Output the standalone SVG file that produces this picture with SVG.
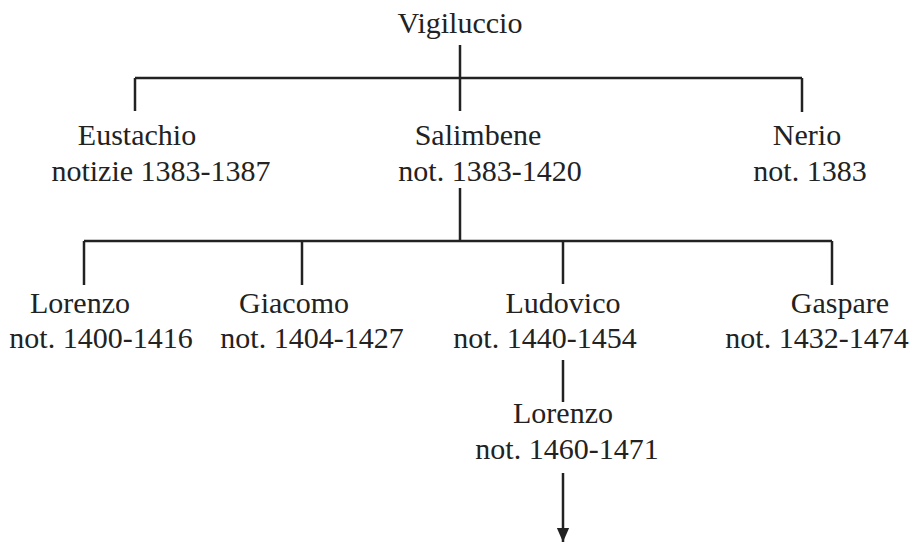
<svg xmlns="http://www.w3.org/2000/svg" width="914" height="544" viewBox="0 0 914 544">
<style>
text{font-family:"Liberation Serif","Times New Roman",serif;font-size:30px;fill:#222;text-anchor:middle}
.c{stroke:#222;stroke-width:2.5;fill:none}
</style>
<defs>
<marker id="ah" markerUnits="userSpaceOnUse" markerWidth="14" markerHeight="16" refX="16" refY="7" orient="auto" viewBox="0 0 16 14">
<path d="M0,0 L16,7 L0,14 Z" fill="#222"/>
</marker>
</defs>
<rect width="914" height="544" fill="#fff"/>
<g id="connectors">
<line class="c" x1="460" y1="45" x2="460" y2="111"/>
<line class="c" x1="135" y1="78" x2="802" y2="78"/>
<line class="c" x1="135" y1="78" x2="135" y2="111"/>
<line class="c" x1="802" y1="78" x2="802" y2="112"/>
<line class="c" x1="460" y1="188" x2="460" y2="241"/>
<line class="c" x1="84" y1="241" x2="832" y2="241"/>
<line class="c" x1="84" y1="241" x2="84" y2="285"/>
<line class="c" x1="302" y1="241" x2="302" y2="285"/>
<line class="c" x1="563" y1="241" x2="563" y2="284"/>
<line class="c" x1="832" y1="241" x2="832" y2="285"/>
<line class="c" x1="563" y1="360" x2="563" y2="402"/>
<line class="c" x1="563" y1="473" x2="563" y2="542" marker-end="url(#ah)"/>
</g>
<g id="vigiluccio"><text x="460" y="33">Vigiluccio</text></g>
<g id="eustachio"><text x="137" y="145">Eustachio</text><text x="161" y="181">notizie 1383-1387</text></g>
<g id="salimbene"><text x="478" y="145">Salimbene</text><text x="490" y="181">not. 1383-1420</text></g>
<g id="nerio"><text x="807" y="145">Nerio</text><text x="810" y="181">not. 1383</text></g>
<g id="lorenzo1"><text x="80" y="313">Lorenzo</text><text x="101" y="348">not. 1400-1416</text></g>
<g id="giacomo"><text x="294" y="313">Giacomo</text><text x="312" y="348">not. 1404-1427</text></g>
<g id="ludovico"><text x="563" y="313">Ludovico</text><text x="545" y="348">not. 1440-1454</text></g>
<g id="gaspare"><text x="840" y="313">Gaspare</text><text x="817" y="348">not. 1432-1474</text></g>
<g id="lorenzo2"><text x="563" y="423">Lorenzo</text><text x="567" y="459">not. 1460-1471</text></g>
</svg>
